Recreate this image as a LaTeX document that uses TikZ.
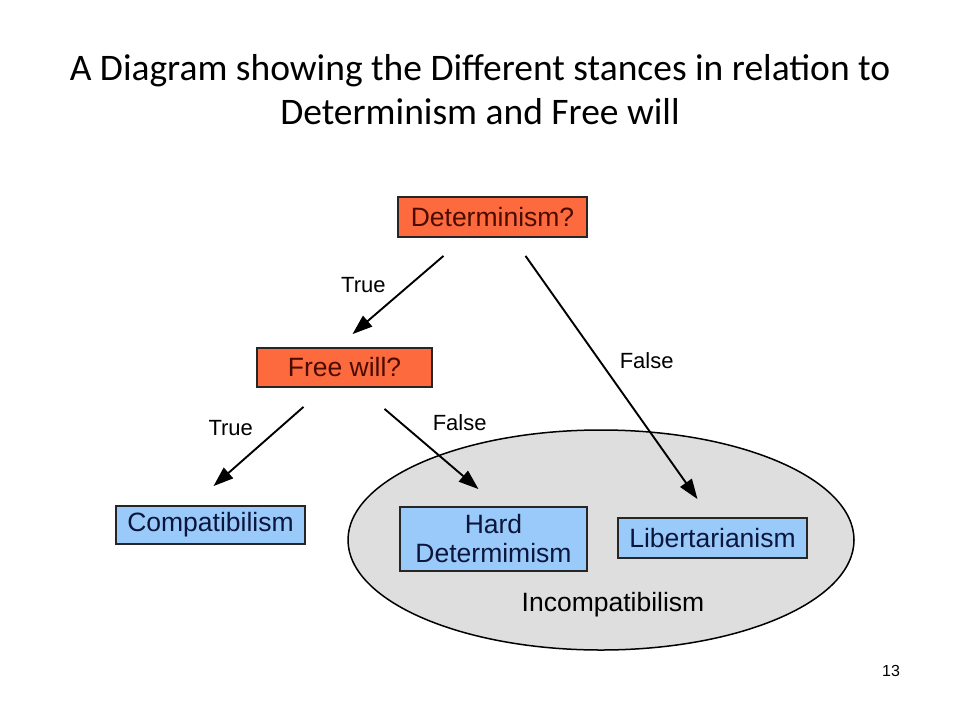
\documentclass[tikz,border=0pt]{standalone}
\usepackage{fontspec}
\setmainfont{Liberation Sans}
\newfontfamily\titlefont{Carlito}
\usetikzlibrary{arrows.meta}
\definecolor{askfill}{RGB}{252,106,62}
\definecolor{asktext}{RGB}{75,12,0}
\definecolor{stancefill}{RGB}{153,202,250}
\definecolor{stancetext}{RGB}{12,22,60}
\definecolor{incompfill}{RGB}{222,222,222}
\begin{document}
\begin{tikzpicture}[x=1pt,y=-1pt,
  ask/.style={draw=black!85,line width=1.8pt,fill=askfill,text=asktext,inner sep=0pt,
    font=\fontsize{26.5}{29}\selectfont},
  stance/.style={draw=black!85,line width=1.8pt,fill=stancefill,text=stancetext,inner sep=0pt,
    align=center,font=\fontsize{26.5}{29}\selectfont},
  arr/.style={line width=1.9pt,-{Triangle[length=20pt,width=14pt]}},
  lbl/.style={font=\fontsize{22}{24}\selectfont}]
\useasboundingbox[fill=white] (0,0) rectangle (960,720);

% title
\node[font=\titlefont\fontsize{37.5}{44}\selectfont,align=center] (title) at (480,90)
  {A Diagram showing the Different stances in relation to\\Determinism and Free will};

% incompatibilism region
\draw[line width=1.5pt,fill=incompfill] (601,540) ellipse (253 and 110);
\node[font=\fontsize{26.5}{29}\selectfont] (incomp) at (613,605) {Incompatibilism};

% questions
\node[ask,minimum width=189,minimum height=40] (det) at (492.5,217) {Determinism?};
\node[ask,minimum width=175,minimum height=39] (fw) at (344.5,367.5) {Free will?};

% stances
\node[stance,minimum width=189,minimum height=38] (comp) at (210.5,525) {Compatibilism};
\node[stance,minimum width=187,minimum height=64] (hard) at (493.5,539) {Hard\\Determimism};
\node[stance,minimum width=189,minimum height=40] (lib) at (712.5,538) {Libertarianism};

% answers
\draw[arr] ([xshift=-49pt,yshift=-18pt]det.south) -- ([xshift=8pt,yshift=13pt]fw.north)
  node[lbl,pos=0.37,left=20pt] {True};
\draw[arr] ([xshift=33pt,yshift=-18pt]det.south) -- ([xshift=-15pt,yshift=18pt]lib.north)
  node[lbl,pos=0.43,right=16pt] {False};
\draw[arr] ([xshift=-41pt,yshift=-19pt]fw.south) -- ([xshift=3pt,yshift=19pt]comp.north)
  node[lbl,pos=0.27,left=22pt] {True};
\draw[arr] ([xshift=40pt,yshift=-21pt]fw.south) -- ([xshift=-15pt,yshift=17pt]hard.north)
  node[lbl,pos=0.17,right=28pt] {False};

\node[font=\fontsize{16}{18}\selectfont] (pageno) at (891,671) {13};
\end{tikzpicture}
\end{document}
